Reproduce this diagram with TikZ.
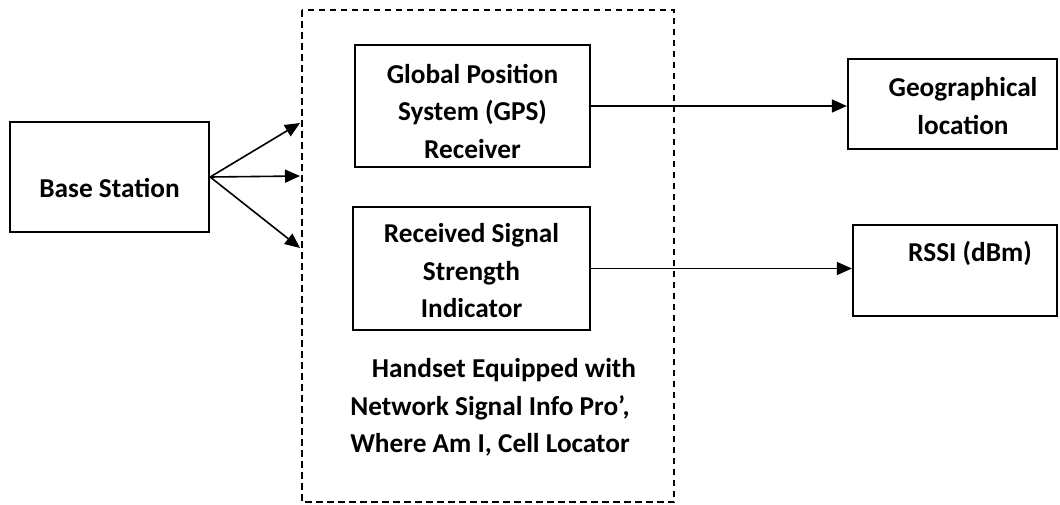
\documentclass[tikz,border=0pt]{standalone}
\usepackage{fontspec}
\setmainfont{Carlito}
\usetikzlibrary{arrows.meta}
\begin{document}
\begin{tikzpicture}[x=1pt,y=-1pt,
  font=\fontsize{27.3}{37.5}\selectfont\bfseries,
  blk/.style={draw,line width=2.3pt,inner sep=0pt,align=center},
  lbl/.style={inner sep=0pt,align=center},
  arr/.style={line width=1.6pt,-{Triangle[length=15pt,width=13pt]}},
  frame/.style={line width=1.5pt,dash pattern=on 6.5pt off 4.5pt}]
\useasboundingbox (0,0) rectangle (1060,504);
% handset frame
\draw[frame] (302,10) rectangle (674,502);
% blocks
\node[blk,minimum width=199pt,minimum height=110pt] (bs) at (109.5,177) {};
\node[lbl] (bst) at (109.5,188) {Base Station};
\node[blk,minimum width=235pt,minimum height=122pt] (gps) at (472.5,106) {};
\node[lbl] (gpst) at (472.5,111) {Global Position\\System (GPS)\\Receiver};
\node[blk,minimum width=237pt,minimum height=123pt] (rss) at (471.5,268.5) {};
\node[lbl] (rsst) at (471.5,271) {Received Signal\\Strength\\Indicator};
\node[blk,minimum width=209pt,minimum height=90pt] (geo) at (952.5,104) {};
\node[lbl] (geot) at (963,106) {Geographical\\location};
\node[blk,minimum width=204pt,minimum height=91pt] (dbm) at (955,270.5) {};
\node[lbl] (dbmt) at (970,253) {RSSI (dBm)};
\node[lbl] (hs) at (490,407.5) {\hspace*{28pt}Handset Equipped with\\Network Signal Info Pro’,\\Where Am I, Cell Locator};
% signal paths
\coordinate (t1) at (300,123);
\coordinate (t2) at (300,176);
\coordinate (t3) at (300,248);
\draw[arr] (bs.east) -- (t1);
\draw[arr] (bs.east) -- (t2);
\draw[arr] (bs.east) -- (t3);
\draw[arr] (gps.east) -- (geo.west |- gps.east);
\draw[arr] (rss.east) -- (dbm.west |- rss.east);
\end{tikzpicture}
\end{document}
